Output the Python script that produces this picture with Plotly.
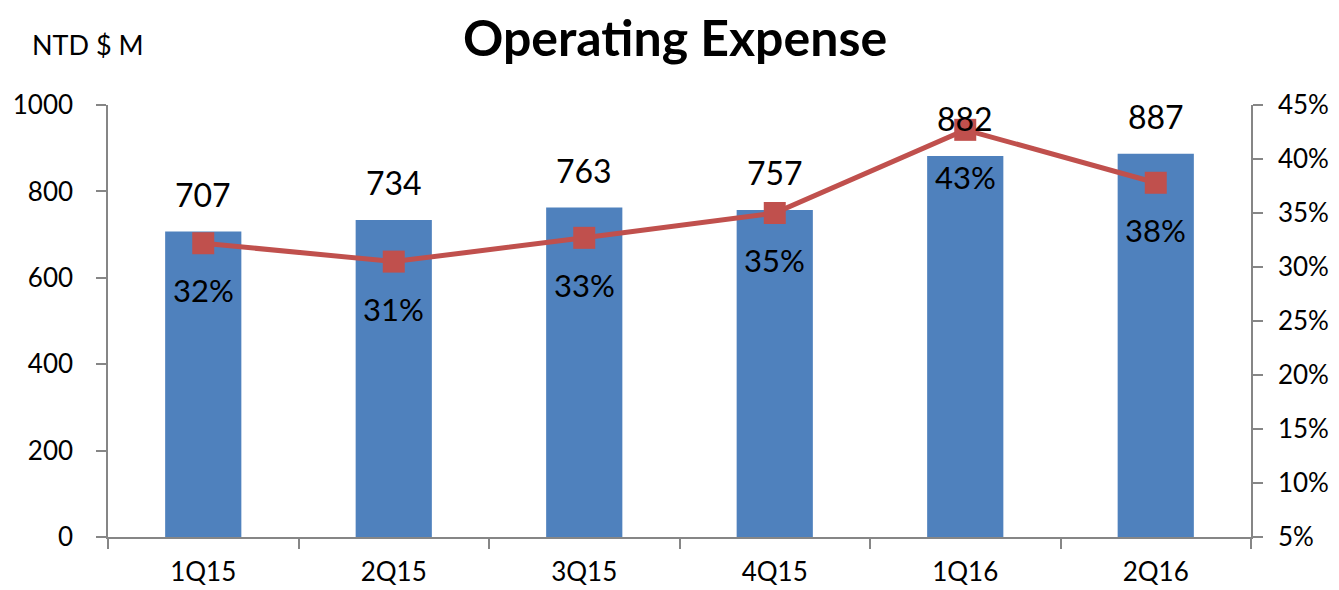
import plotly.graph_objects as go

categories = ["1Q15", "2Q15", "3Q15", "4Q15", "1Q16", "2Q16"]
opex = [707, 734, 763, 757, 882, 887]
opex_ratio = [0.322, 0.305, 0.327, 0.350, 0.427, 0.378]
ratio_labels = ["32%", "31%", "33%", "35%", "43%", "38%"]

FONT = "Lato, 'Open Sans', sans-serif"
BAR_C = "#4F81BD"
LINE_C = "#C0504D"
AXIS_C = "#868686"

# page body has an 8px margin; size the figure so it fits the window
W, H = 1331, 582

fig = go.Figure()
fig.add_trace(go.Bar(
    x=categories, y=opex, marker=dict(color=BAR_C, line=dict(width=0)),
    width=0.4, yaxis="y", hoverinfo="skip", showlegend=False,
))
fig.add_trace(go.Scatter(
    x=categories, y=opex_ratio, yaxis="y2", mode="lines+markers",
    line=dict(color=LINE_C, width=5),
    marker=dict(symbol="square", size=22, color=LINE_C),
    hoverinfo="skip", showlegend=False,
))

annotations = []
for c, v in zip(categories, opex):
    annotations.append(dict(
        x=c, y=v, xref="x", yref="y", text=str(v), showarrow=False,
        yanchor="middle", yshift=37, font=dict(family=FONT, size=32, color="black"),
    ))
for c, v, t in zip(categories, opex_ratio, ratio_labels):
    annotations.append(dict(
        x=c, y=v, xref="x", yref="y2", text=t, showarrow=False,
        yanchor="middle", yshift=-47, font=dict(family=FONT, size=31, color="black"),
    ))
annotations.append(dict(
    x=-0.068, y=1.139, xref="paper", yref="paper", text="NTD $ M", showarrow=False,
    xanchor="left", yanchor="middle", font=dict(family=FONT, size=27, color="black"),
))

fig.update_layout(
    width=W, height=H,
    margin=dict(l=100, r=88, t=97, b=53, autoexpand=False),
    paper_bgcolor="white", plot_bgcolor="white",
    font=dict(family=FONT, color="black"),
    title=dict(text="<b>Operating Expense</b>", x=667 / W, xref="container", xanchor="center",
               y=1 - 30 / H, yref="container", yanchor="middle",
               font=dict(family=FONT, size=50, color="black")),
    xaxis=dict(
        showline=True, linecolor=AXIS_C, linewidth=1.5, automargin=False,
        ticks="outside", tickson="boundaries", ticklen=10, tickcolor=AXIS_C, tickwidth=1.5,
        tickfont=dict(family=FONT, size=26, color="black"), ticklabelstandoff=11,
        showgrid=False, zeroline=False,
    ),
    yaxis=dict(
        range=[0, 1000], dtick=200, showline=True, linecolor=AXIS_C, linewidth=1.5,
        automargin=False,
        ticks="outside", ticklen=10, tickcolor=AXIS_C, tickwidth=1.5,
        tickfont=dict(family=FONT, size=26, color="black"), ticklabelstandoff=18,
        showgrid=False, zeroline=False,
    ),
    yaxis2=dict(
        range=[0.05, 0.45], dtick=0.05, tickformat=".0%", overlaying="y", side="right",
        showline=True, linecolor=AXIS_C, linewidth=1.5, automargin=False,
        ticks="outside", ticklen=10, tickcolor=AXIS_C, tickwidth=1.5,
        tickfont=dict(family=FONT, size=26, color="black"), ticklabelstandoff=10,
        showgrid=False, zeroline=False,
    ),
    annotations=annotations,
    bargap=0.6,
)

fig.write_html("out.html")
